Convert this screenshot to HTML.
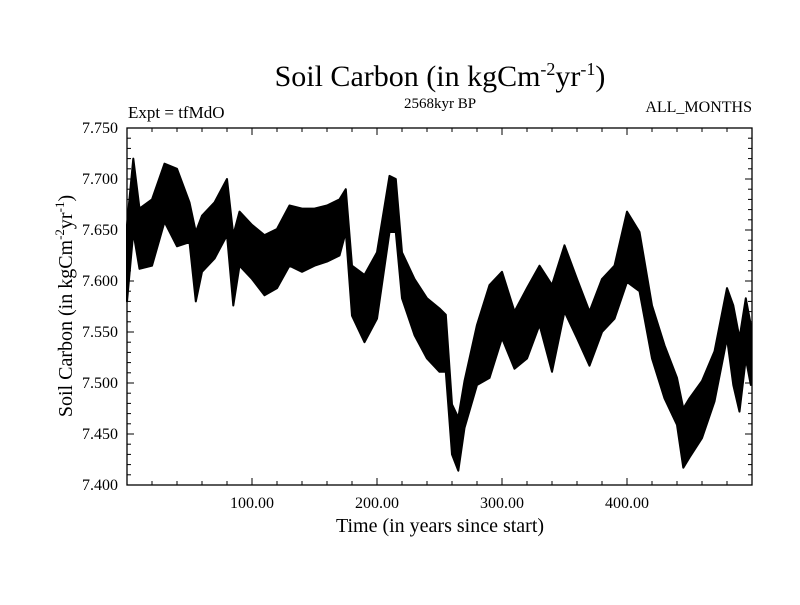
<!DOCTYPE html>
<html><head><meta charset="utf-8"><style>
body{margin:0;background:#fff}
svg text{font-family:"Liberation Serif",serif;fill:#000}
</style></head><body>
<svg id="c" width="800" height="600" xmlns="http://www.w3.org/2000/svg">
<text x="440" y="86" font-size="30" text-anchor="middle">Soil Carbon (in kgCm<tspan dy="-11" font-size="18">-2</tspan><tspan dy="11">yr</tspan><tspan dy="-11" font-size="18">-1</tspan><tspan dy="11">)</tspan></text>
<text x="128" y="118" font-size="17">Expt = tfMdO</text>
<text x="440" y="108" font-size="15" text-anchor="middle">2568kyr BP</text>
<text x="752" y="112" font-size="16" text-anchor="end">ALL_MONTHS</text>
<text x="440" y="532" font-size="20" text-anchor="middle">Time (in years since start)</text>
<text transform="translate(72,306) rotate(-90)" font-size="20" text-anchor="middle">Soil Carbon (in kgCm<tspan dy="-8" font-size="13">-2</tspan><tspan dy="8">yr</tspan><tspan dy="-8" font-size="13">-1</tspan><tspan dy="8">)</tspan></text>
<g id="plot"></g>
</svg>
<script>
const years=[0,5,10,20,30,40,50,55,60,70,80,85,90,100,110,120,130,140,150,160,170,175,180,190,200,210,215,220,230,240,250,255,260,265,270,280,290,300,310,320,330,340,350,360,370,380,390,400,410,420,430,440,445,450,460,470,480,485,490,495,499];
const highVals=[7.655,7.720,7.671,7.680,7.715,7.710,7.677,7.648,7.664,7.677,7.700,7.645,7.668,7.655,7.645,7.651,7.674,7.671,7.671,7.674,7.680,7.690,7.615,7.606,7.628,7.703,7.700,7.628,7.602,7.583,7.573,7.567,7.479,7.466,7.502,7.557,7.596,7.609,7.570,7.593,7.615,7.596,7.635,7.602,7.570,7.602,7.615,7.668,7.648,7.576,7.537,7.505,7.475,7.485,7.502,7.531,7.593,7.576,7.544,7.583,7.557];
const lowVals=[7.580,7.648,7.612,7.615,7.658,7.634,7.638,7.580,7.609,7.622,7.645,7.576,7.615,7.602,7.586,7.593,7.615,7.609,7.615,7.619,7.625,7.648,7.566,7.540,7.563,7.648,7.648,7.583,7.547,7.524,7.511,7.511,7.430,7.414,7.456,7.498,7.505,7.544,7.514,7.524,7.557,7.511,7.570,7.544,7.517,7.550,7.563,7.599,7.590,7.524,7.485,7.459,7.417,7.427,7.446,7.482,7.544,7.498,7.472,7.524,7.498];
const yTicks=[7.400,7.450,7.500,7.550,7.600,7.650,7.700,7.750];
const xTicks=[100,200,300,400];
const L=127,R=752,T=128,B=485,X0=0,X1=500,Y0=7.40,Y1=7.75;
const sx=v=>L+(v-X0)/(X1-X0)*(R-L);
const sy=v=>B-(v-Y0)/(Y1-Y0)*(B-T);
const NS='http://www.w3.org/2000/svg';
const g=document.getElementById('plot');
function mk(t,a){const e=document.createElementNS(NS,t);for(const k in a)e.setAttribute(k,a[k]);g.appendChild(e);return e;}
let pts=[];
for(let i=0;i<years.length;i++)pts.push(sx(years[i]).toFixed(1)+','+sy(highVals[i]).toFixed(1));
for(let i=years.length-1;i>=0;i--)pts.push(sx(years[i]).toFixed(1)+','+sy(lowVals[i]).toFixed(1));
const band=mk('polygon',{points:pts.join(' '),fill:'#000',stroke:'#000','stroke-width':'2','stroke-linejoin':'round'});


const frame=mk('rect',{x:L,y:T,width:R-L,height:B-T,fill:'none',stroke:'#000','stroke-width':'1.3'});


// x ticks every 20 years
for(let v=20;v<X1;v+=20){
  const x=sx(v),len=(v%100===0)?7:4;
  mk('line',{x1:x,y1:B,x2:x,y2:B-len,stroke:'#000','stroke-width':'1'});
  mk('line',{x1:x,y1:T,x2:x,y2:T+len,stroke:'#000','stroke-width':'1'});
}
xTicks.forEach(v=>{
  const t=mk('text',{x:sx(v),y:B+23,'font-size':'16','text-anchor':'middle'});
  t.textContent=v.toFixed(2);
  
  
});
// y ticks every 0.01
for(let k=1;k<35;k++){
  const v=Y0+k*0.01,y=sy(v),len=(k%5===0)?7:4;
  mk('line',{x1:L,y1:y,x2:L+len,y2:y,stroke:'#000','stroke-width':'1'});
  mk('line',{x1:R,y1:y,x2:R-len,y2:y,stroke:'#000','stroke-width':'1'});
}
yTicks.forEach(v=>{
  const t=mk('text',{x:L-9,y:sy(v)+5,'font-size':'16','text-anchor':'end'});
  t.textContent=v.toFixed(3);
  
  
});
</script>
</body></html>
